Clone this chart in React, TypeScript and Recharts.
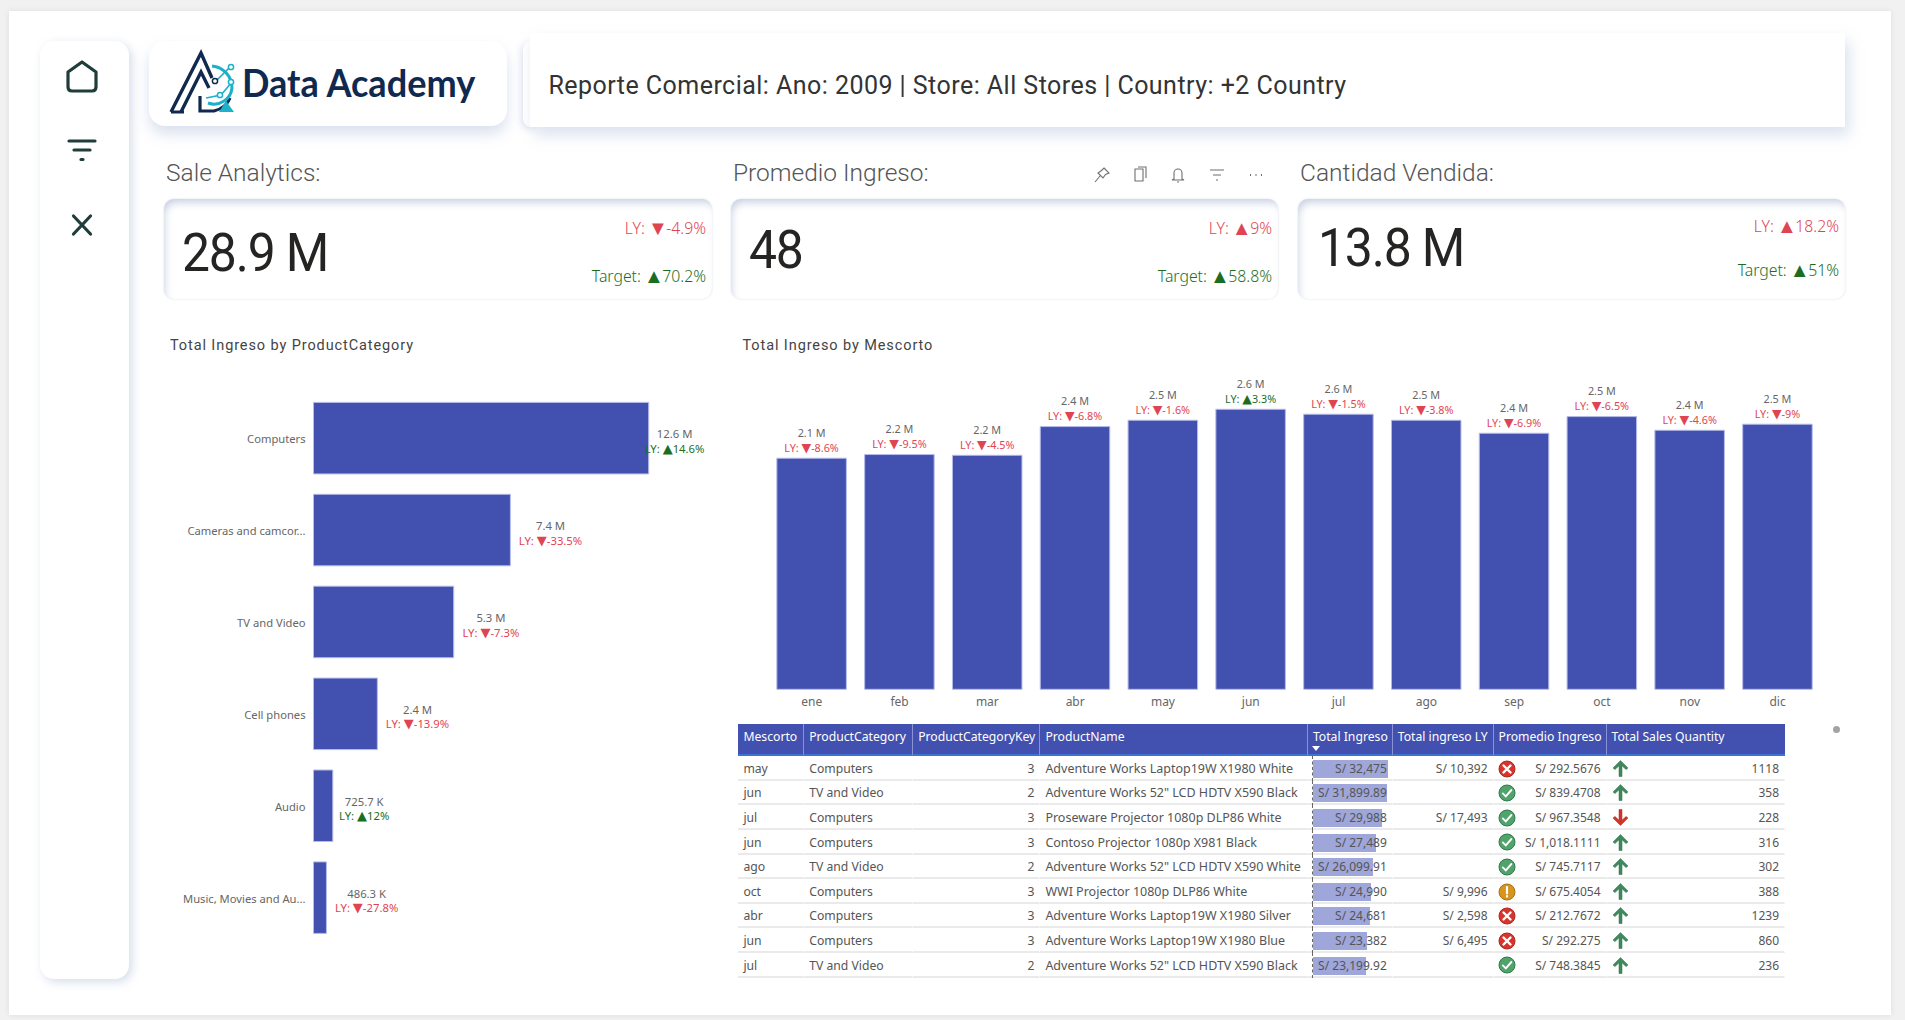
import { Bar, BarChart, LabelList, XAxis, YAxis } from 'recharts';

const BAR_BLUE = '#4250AF';
const BAR_EDGE = '#B4BBE8';
const RED = '#DF4452';
const GREEN = '#1B6E1F';
const UI_FONT = '"Noto Sans", "DejaVu Sans", sans-serif';
const DIN_FONT = 'Roboto, sans-serif';

// Total Ingreso by ProductCategory
const categories = ['Computers', 'Cameras and camcor...', 'TV and Video', 'Cell phones', 'Audio', 'Music, Movies and Au...'];
const categoryIngreso = [12600000, 7400000, 5270000, 2400000, 725700, 486300];
const categoryLy = [14.6, -33.5, -7.3, -13.9, 12, -27.8];

// Total Ingreso by Mescorto (millions)
const months = ['ene', 'feb', 'mar', 'abr', 'may', 'jun', 'jul', 'ago', 'sep', 'oct', 'nov', 'dic'];
const monthIngreso = [2.149, 2.183, 2.176, 2.443, 2.502, 2.604, 2.558, 2.502, 2.381, 2.536, 2.409, 2.465];
const monthLy = [-8.6, -9.5, -4.5, -6.8, -1.6, 3.3, -1.5, -3.8, -6.9, -6.5, -4.6, -9];

// detail table
const tableHeaders = ['Mescorto', 'ProductCategory', 'ProductCategoryKey', 'ProductName', 'Total Ingreso', 'Total ingreso LY', 'Promedio Ingreso', 'Total Sales Quantity'];
const rowMonth = ['may', 'jun', 'jul', 'jun', 'ago', 'oct', 'abr', 'jun', 'jul'];
const rowCategory = ['Computers', 'TV and Video', 'Computers', 'Computers', 'TV and Video', 'Computers', 'Computers', 'Computers', 'TV and Video'];
const rowKey = [3, 2, 3, 3, 2, 3, 3, 3, 2];
const rowProduct = [
  'Adventure Works Laptop19W X1980 White',
  'Adventure Works 52" LCD HDTV X590 Black',
  'Proseware Projector 1080p DLP86 White',
  'Contoso Projector 1080p X981 Black',
  'Adventure Works 52" LCD HDTV X590 White',
  'WWI Projector 1080p DLP86 White',
  'Adventure Works Laptop19W X1980 Silver',
  'Adventure Works Laptop19W X1980 Blue',
  'Adventure Works 52" LCD HDTV X590 Black',
];
const rowIngreso = [32475, 31899.89, 29988, 27489, 26099.91, 24990, 24681, 23382, 23199.92];
const rowIngresoLy = [10392, null, 17493, null, null, 9996, 2598, 6495, null];
const rowStatus = ['bad', 'ok', 'ok', 'ok', 'ok', 'warn', 'bad', 'bad', 'ok'];
const rowPromedio = [292.5676, 839.4708, 967.3548, 1018.1111, 745.7117, 675.4054, 212.7672, 292.275, 748.3845];
const rowTrend = ['up', 'up', 'down', 'up', 'up', 'up', 'up', 'up', 'up'];
const rowQuantity = [1118, 358, 228, 316, 302, 388, 1239, 860, 236];

const columnWidths = [65.8, 109, 127.2, 267.5, 84.9, 100.8, 113, 178.5];

const categoryData = categories.map((name, i) => ({ name, value: categoryIngreso[i], ly: categoryLy[i] }));
const monthData = months.map((name, i) => ({ name, value: monthIngreso[i], ly: monthLy[i] }));

const formatShort = (v: number) => (v >= 1000000 ? `${(v / 1000000).toFixed(1)} M` : `${(v / 1000).toFixed(1)} K`);
const soles = (v: number) => `S/ ${v.toLocaleString('en-US', { maximumFractionDigits: 4 })}`;

function CategoryTick({ x, y, payload }: any) {
  return (
    <text x={x} y={y + 1} dy="0.35em" textAnchor="end" fontFamily={UI_FONT} fontSize={11.2} fill="#666">
      {payload.value}
    </text>
  );
}

function LyText({ x, y, ly, size }: any) {
  return (
    <text x={x} y={y} dy="0.35em" fill={ly >= 0 ? GREEN : RED}>
      LY: <tspan fontFamily='"DejaVu Sans"' fontSize={size}>{ly >= 0 ? '▲' : '▼'}</tspan>{ly}%
    </text>
  );
}

function CategoryLabel({ x, y, width, height, index }: any) {
  const row = categoryData[index];
  const textWidth = (`LY: ▲${row.ly}%`).length * 5.85;
  // the label stays inside the visual, so the longest bar pushes it back over its own end
  const center = Math.min(x + width + 8 + textWidth / 2, 514.6);
  const mid = y + height / 2;
  return (
    <g fontFamily={UI_FONT} fontSize={11.3} textAnchor="middle">
      <text x={center} y={mid - 3.8} dy="0.35em" fill="#666">{formatShort(row.value)}</text>
      <LyText x={center} y={mid + 10.6} ly={row.ly} size={13} />
    </g>
  );
}

function MonthLabel({ x, y, width, index }: any) {
  const row = monthData[index];
  const center = x + width / 2;
  return (
    <g fontFamily={UI_FONT} fontSize={10.8} textAnchor="middle">
      <text x={center} y={y - 25} dy="0.35em" fill="#666">{row.value.toFixed(1)} M</text>
      <LyText x={center} y={y - 10} ly={row.ly} size={12.5} />
    </g>
  );
}

function StatusIcon({ kind }: { kind: string }) {
  const fill = kind === 'bad' ? '#D8342C' : kind === 'ok' ? '#4FA36B' : '#D6951F';
  const edge = kind === 'bad' ? '#A82A24' : kind === 'ok' ? '#2F7A4A' : '#A87316';
  return (
    <svg width={18} height={18} viewBox="0 0 18 18" style={{ position: 'absolute', left: 4.5, top: 3.3 }}>
      <circle cx={9} cy={9} r={8} fill={fill} stroke={edge} />
      {kind === 'bad' && <path d="M5.5 5.5 L12.5 12.5 M12.5 5.5 L5.5 12.5" stroke="#fff" strokeWidth={2.4} strokeLinecap="round" />}
      {kind === 'ok' && <path d="M4.8 9.4 L7.8 12.4 L13.4 6" stroke="#fff" strokeWidth={1.9} fill="none" strokeLinecap="round" />}
      {kind === 'warn' && <path d="M9 4 L9 10.5 M9 13 L9 13.6" stroke="#fff" strokeWidth={2.2} strokeLinecap="round" />}
    </svg>
  );
}

function TrendIcon({ kind }: { kind: string }) {
  const up = kind === 'up';
  return (
    <svg width={17} height={17} viewBox="0 0 17 17" style={{ position: 'absolute', left: 5, top: 3.5 }}>
      <path
        d={up ? 'M8.5 0.5 L16 8 L14 9.6 L10 5.8 L10 16.5 L7 16.5 L7 5.8 L3 9.6 L1 8 Z' : 'M8.5 16.5 L16 9 L14 7.4 L10 11.2 L10 0.5 L7 0.5 L7 11.2 L3 7.4 L1 9 Z'}
        fill={up ? '#3F8A5C' : '#D6322C'}
        stroke={up ? '#2F6F49' : '#A82A24'}
        strokeWidth={0.5}
      />
    </svg>
  );
}

function ToolbarIcons() {
  const s = { fill: 'none', stroke: '#6f6f6f', strokeWidth: 1.1 };
  return (
    <svg width={180} height={20} style={{ position: 'absolute', left: 1090, top: 165 }} {...s}>
      <path d="M14 3 L19 8 L15.5 9.5 L13 13 L8 8 L11.5 5.5 Z M10 11 L5 17" />
      <path d="M45 4 L53 4 L53 16 L45 16 Z M48 2 L56 2 L56 13" />
      <path d="M84 14 L84 8 A4 4 0 0 1 92 8 L92 14 L94 15 L82 15 Z M87 17 L89 17" />
      <path d="M120 5 L134 5 M123 10 L131 10 M126 15 L128 15" />
      <path d="M160 10 L161 10 M165.5 10 L166.5 10 M171 10 L172 10" strokeWidth={2} />
    </svg>
  );
}

function LogoMark() {
  return (
    <svg width={75} height={72} viewBox="165 46 75 72" style={{ position: 'absolute', left: 165, top: 46 }}>
      <path d="M171 112 L201 53 L212 78 M181 112 L201 72 L209 88" fill="none" stroke="#10294F" strokeWidth={3.4} />
      <path d="M171 112 L184 112 M200 96 L200 111 L214 111 Q226 108 230 98" fill="none" stroke="#10294F" strokeWidth={3.2} />
      <path d="M212 66 A22 22 0 0 1 232 88 A18 18 0 0 1 208 103" fill="none" stroke="#1CB0C9" strokeWidth={3} />
      <path d="M216 81 L231 66 M232 82 L221 95 L206 98" fill="none" stroke="#1CB0C9" strokeWidth={1.6} />
      <circle cx={231} cy={67} r={2.6} fill="#fff" stroke="#1CB0C9" strokeWidth={1.5} />
      <circle cx={231} cy={82} r={2.6} fill="#fff" stroke="#1CB0C9" strokeWidth={1.5} />
      <circle cx={220} cy={95} r={2.6} fill="#fff" stroke="#1CB0C9" strokeWidth={1.5} />
      <circle cx={215} cy={81} r={2.6} fill="#fff" stroke="#10294F" strokeWidth={1.5} />
      <path d="M226 101 L234 112 L219 112 Z" fill="#1CB0C9" />
    </svg>
  );
}

function SideIcons() {
  const s = { fill: 'none', stroke: '#1F3D3A', strokeWidth: 3.2, strokeLinecap: 'round' as const, strokeLinejoin: 'round' as const };
  return (
    <svg width={89} height={220} viewBox="39 40 89 220" style={{ position: 'absolute', left: 39, top: 40 }} {...s}>
      <path d="M68 72 L82 62 L96 72 L96 87 Q96 91 92 91 L72 91 Q68 91 68 87 Z" />
      <path d="M69 141 L95 141 M74 150 L90 150 M81 159.5 L83 159.5" />
      <path d="M73.5 216 L90.5 234 M90.5 216 L73.5 234" />
    </svg>
  );
}

// the KPI triangles are much bigger than the text around them, so they get their own font and size
function KpiDelta({ text, color, right, top }: any) {
  const parts = text.split(/([▲▼])/);
  return (
    <div style={{ position: 'absolute', right, top: top - 12, fontFamily: UI_FONT, fontWeight: 300, fontSize: 15.8, lineHeight: '24px', color, whiteSpace: 'nowrap' }}>
      {parts.map((p: string, i: number) => (
        <span key={i} style={p === '▲' || p === '▼' ? { fontFamily: '"DejaVu Sans"', fontSize: 20, lineHeight: 0, verticalAlign: '-1px', margin: '0 -1.5px 0 -1px' } : undefined}>{p}</span>
      ))}
    </div>
  );
}

function Kpi({ label, labelLeft, left, width, value, valueLeft, valueTop, ly, target, lyTop, targetTop }: any) {
  const right = 1905 - (left + width) + 6;
  return (
    <>
      <div style={{ position: 'absolute', left: labelLeft, top: 156.5, fontFamily: DIN_FONT, fontWeight: 300, fontSize: 24.5, lineHeight: '32px', color: '#555' }}>{label}</div>
      <div
        style={{
          position: 'absolute', left, top: 199, width, height: 100, borderRadius: 10, background: '#fff',
          boxShadow: 'inset 3px 6px 8px -3px rgba(125,145,185,0.45), 0 0 2px rgba(170,185,215,0.5)',
        }}
      />
      <div
        style={{
          position: 'absolute', left: valueLeft, top: valueTop + 1, fontFamily: DIN_FONT, fontSize: 53, lineHeight: '60px', letterSpacing: -1.2,
          color: '#252423', transform: 'scaleX(0.94)', transformOrigin: 'left center', whiteSpace: 'nowrap',
        }}
      >
        {value}
      </div>
      <KpiDelta text={ly} color={RED} right={right} top={lyTop} />
      <KpiDelta text={target} color={GREEN} right={right} top={targetTop} />
    </>
  );
}

function DetailTable() {
  const cell = { padding: '1.5px 5px 0', borderBottom: '2px solid #EAEAEA', borderRight: '1px solid #fff', height: 24.6, boxSizing: 'border-box' as const, position: 'relative' as const, whiteSpace: 'nowrap' as const };
  const right = { ...cell, textAlign: 'right' as const };
  const maxIngreso = Math.max(...rowIngreso);
  return (
    <table
      style={{
        position: 'absolute', left: 738.4, top: 724.3, width: 1046.7, tableLayout: 'fixed', borderCollapse: 'separate', borderSpacing: 0,
        fontFamily: UI_FONT, fontSize: 12.2, color: '#555',
      }}
    >
      <colgroup>
        {columnWidths.map((w, i) => <col key={i} style={{ width: w }} />)}
      </colgroup>
      <thead>
        <tr style={{ height: 32 }}>
          {tableHeaders.map((h, i) => (
            <th
              key={h}
              style={{
                background: BAR_BLUE, color: '#fff', fontWeight: 400, padding: '0 5px 5.5px', height: 32, boxSizing: 'border-box',
                textAlign: i === 2 ? 'right' : 'left', borderBottom: '2px solid #3E72D6', borderRight: i < 7 ? '1px solid #8A93D6' : 'none',
                position: 'relative', whiteSpace: 'nowrap',
              }}
            >
              {h}
              {i === 4 && <span style={{ position: 'absolute', left: 4.5, bottom: 3, width: 0, height: 0, borderLeft: '4px solid transparent', borderRight: '4px solid transparent', borderTop: '5px solid #fff' }} />}
            </th>
          ))}
        </tr>
      </thead>
      <tbody>
        {rowMonth.map((month, r) => (
          <tr key={r}>
            <td style={cell}>{month}</td>
            <td style={cell}>{rowCategory[r]}</td>
            <td style={right}>{rowKey[r]}</td>
            <td style={{ ...cell, fontSize: 12.5 }}>{rowProduct[r]}</td>
            <td style={{ ...right, fontSize: 12 }}>
              <span style={{ position: 'absolute', left: 4.8, top: 3.5, height: 18, width: (rowIngreso[r] / maxIngreso) * 75.3, background: '#9FA6DA' }} />
              <span style={{ position: 'absolute', left: 4.3, top: 0, height: 25, borderLeft: '1px dashed #666' }} />
              <span style={{ position: 'relative' }}>{soles(rowIngreso[r])}</span>
            </td>
            <td style={{ ...right, fontSize: 12 }}>{rowIngresoLy[r] === null ? '' : soles(rowIngresoLy[r] as number)}</td>
            <td style={{ ...right, fontSize: 12 }}><StatusIcon kind={rowStatus[r]} />{soles(rowPromedio[r])}</td>
            <td style={{ ...right, fontSize: 12 }}><TrendIcon kind={rowTrend[r]} />{rowQuantity[r]}</td>
          </tr>
        ))}
      </tbody>
    </table>
  );
}

export default function App() {
  const cardShadow = '0 8px 14px rgba(150,170,205,0.35)';
  return (
    <div style={{ position: 'fixed', left: 0, top: 0, width: 1905, height: 1020, overflow: 'hidden', background: '#F1F1F1' }}>
      <div style={{ position: 'absolute', left: 9, top: 11, width: 1882, height: 1004, background: '#fff', boxShadow: '0 0 6px rgba(0,0,0,0.08)' }} />

      <div style={{ position: 'absolute', left: 39.5, top: 41, width: 89, height: 938, borderRadius: 14, background: '#fff', boxShadow: '3px 3px 10px rgba(150,170,205,0.4)' }} />
      <SideIcons />

      <div style={{ position: 'absolute', left: 149, top: 41, width: 358, height: 85, borderRadius: 16, background: '#fff', boxShadow: cardShadow }} />
      <LogoMark />
      <div
        style={{
          position: 'absolute', left: 242, top: 58, fontFamily: 'Lato, sans-serif', fontWeight: 700, fontSize: 38, lineHeight: '48px',
          color: '#10294F', whiteSpace: 'nowrap', transform: 'scaleX(0.95)', transformOrigin: 'left center',
        }}
      >
        Data Academy
      </div>

      <div style={{ position: 'absolute', left: 523, top: 41, width: 16, height: 86, borderRadius: 14, background: '#fff', boxShadow: '-2px 2px 6px rgba(150,170,205,0.3)' }} />
      <div style={{ position: 'absolute', left: 530, top: 33, width: 1315, height: 94, background: '#fff', boxShadow: '4px 8px 14px rgba(150,170,205,0.35)' }} />
      <div style={{ position: 'absolute', left: 548.5, top: 68, fontFamily: DIN_FONT, fontSize: 25, lineHeight: '36px', letterSpacing: 0.46, color: '#333', whiteSpace: 'nowrap' }}>
        Reporte Comercial: Ano: 2009 | Store: All Stores | Country: +2 Country
      </div>

      <Kpi label="Sale Analytics:" labelLeft={166} left={164} width={548} value="28.9 M" valueLeft={182} valueTop={222} ly="LY: ▼-4.9%" target="Target: ▲70.2%" lyTop={228} targetTop={276} />
      <Kpi label="Promedio Ingreso:" labelLeft={733} left={731} width={547} value="48" valueLeft={749} valueTop={219} ly="LY: ▲9%" target="Target: ▲58.8%" lyTop={228} targetTop={276} />
      <Kpi label="Cantidad Vendida:" labelLeft={1300} left={1298} width={547} value="13.8 M" valueLeft={1318} valueTop={217} ly="LY: ▲18.2%" target="Target: ▲51%" lyTop={226} targetTop={270} />
      <ToolbarIcons />

      <div style={{ position: 'absolute', left: 170, top: 335.5, fontFamily: DIN_FONT, fontWeight: 400, fontSize: 14.5, lineHeight: '20px', letterSpacing: 0.9, color: '#444', whiteSpace: 'nowrap' }}>Total Ingreso by ProductCategory</div>
      <div style={{ position: 'absolute', left: 742.5, top: 335.5, fontFamily: DIN_FONT, fontWeight: 400, fontSize: 14.5, lineHeight: '20px', letterSpacing: 0.9, color: '#444', whiteSpace: 'nowrap' }}>Total Ingreso by Mescorto</div>

      <div style={{ position: 'absolute', left: 160, top: 385 }}>
        <BarChart
          width={560}
          height={575}
          layout="vertical"
          data={categoryData}
          margin={{ top: 7.4, right: 71.3, bottom: 16.2, left: 0 }}
          barSize={71.5}
        >
          <XAxis type="number" hide domain={[0, 12600000]} />
          <YAxis
            type="category"
            dataKey="name"
            width={153.5}
            axisLine={false}
            tickLine={false}
            tickMargin={2}
            interval={0}
            tick={CategoryTick}
          />
          <Bar dataKey="value" fill={BAR_BLUE} stroke={BAR_EDGE} strokeWidth={1} isAnimationActive={false}>
            <LabelList dataKey="value" content={CategoryLabel} />
          </Bar>
        </BarChart>
      </div>

      <div style={{ position: 'absolute', left: 750, top: 360 }}>
        <BarChart
          width={1090}
          height={360}
          data={monthData}
          margin={{ top: 6.7, right: 18.5, bottom: 0, left: 17.85 }}
          barSize={69.5}
        >
          <XAxis
            dataKey="name"
            height={30.7}
            axisLine={false}
            tickLine={false}
            interval={0}
            tick={{ fontSize: 12, fontFamily: UI_FONT, fill: '#666' }}
          />
          <YAxis hide domain={[0, 3]} />
          <Bar dataKey="value" fill={BAR_BLUE} stroke={BAR_EDGE} strokeWidth={1} isAnimationActive={false}>
            <LabelList dataKey="value" content={MonthLabel} />
          </Bar>
        </BarChart>
      </div>

      <DetailTable />
      <div style={{ position: 'absolute', left: 1833, top: 725.5, width: 7, height: 7, borderRadius: '50%', background: '#A3A3A3' }} />
    </div>
  );
}
